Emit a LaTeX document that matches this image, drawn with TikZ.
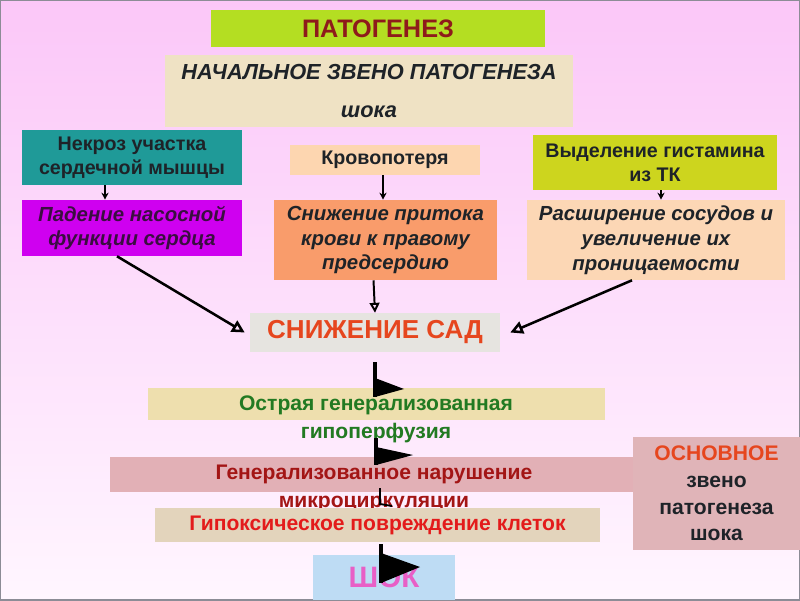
\documentclass[tikz,border=0pt]{standalone}
\usepackage{fontspec}
\setmainfont{Liberation Sans}
\usetikzlibrary{arrows.meta,positioning,calc}
\definecolor{bgTop}{HTML}{FBC7F8}
\definecolor{bgBot}{HTML}{FFF6FF}
\definecolor{frameC}{HTML}{8C8C96}
\definecolor{limeG}{HTML}{B4DE22}
\definecolor{patRed}{HTML}{8E1B1B}
\definecolor{paper}{HTML}{EFE2C4}
\definecolor{paperY}{HTML}{EEDFAE}
\definecolor{paperG}{HTML}{E3D4BC}
\definecolor{tealBox}{HTML}{1F9A98}
\definecolor{inkD}{HTML}{1E2328}
\definecolor{peachL}{HTML}{FDD6B0}
\definecolor{oliveY}{HTML}{CDD51E}
\definecolor{magentaB}{HTML}{CF00F0}
\definecolor{purpleD}{HTML}{3A0E40}
\definecolor{salmon}{HTML}{F99C6B}
\definecolor{peachR}{HTML}{FCD7B5}
\definecolor{grayP}{HTML}{E6E4E0}
\definecolor{sadRed}{HTML}{E6461E}
\definecolor{greenT}{HTML}{227A22}
\definecolor{pinkB}{HTML}{E2B0B6}
\definecolor{darkRed}{HTML}{A31515}
\definecolor{redT}{HTML}{E31B1B}
\definecolor{blueL}{HTML}{BEDCF4}
\definecolor{pinkT}{HTML}{E85FC6}
\definecolor{osnovC}{HTML}{E0B4B8}

\begin{document}
\begin{tikzpicture}[>=Stealth,
  box/.style={inner sep=1pt,align=center,font=\fontsize{14}{17}\selectfont\bfseries},
  ital/.style={box,font=\fontsize{14.5}{17.7}\selectfont\bfseries\itshape},
  band/.style={inner sep=1pt,align=center,font=\fontsize{15}{19.7}\selectfont\bfseries},
  thin/.style={-{Stealth[length=5pt,width=5pt]},line width=1pt},
  diag/.style={-{Triangle[open,length=9pt,width=9pt]},line width=1.8pt},
  chain/.style={line width=2.8pt}]
\useasboundingbox (0,0) rectangle (20,15);
\shade[top color=bgTop,bottom color=bgBot] (0,0) rectangle (20,15);
\draw[frameC,line width=1.4pt] (0,0) rectangle (20,15);
% --- title and initial link ---
\node[box,fill=limeG,text=patRed,minimum width=8.35cm,minimum height=0.925cm,
  font=\fontsize{18}{20}\selectfont\bfseries] (pat) at (9.45,14.29) {ПАТОГЕНЕЗ};
\node[box,fill=paper,text=inkD,minimum width=10.2cm,minimum height=1.8cm,
  font=\fontsize{15.5}{27}\selectfont\bfseries\itshape] (nach) at (9.225,12.725)
  {НАЧАЛЬНОЕ ЗВЕНО ПАТОГЕНЕЗА\\шока};
% --- causes ---
\node[box,fill=tealBox,text=inkD,minimum width=5.5cm,minimum height=1.375cm] (nekroz) at (3.3,11.06) {Некроз участка\\сердечной мышцы};
\node[box,fill=peachL,text=inkD,minimum width=4.75cm,minimum height=0.75cm] (krov) at (9.625,11.0) {Кровопотеря};
\node[box,fill=oliveY,text=inkD,minimum width=6.1cm,minimum height=1.375cm] (vyd) at (16.375,10.9375) {Выделение гистамина\\из ТК};
% --- consequences ---
\node[ital,fill=magentaB,text=purpleD,minimum width=5.5cm,minimum height=1.4cm] (pad) at (3.3,9.3) {Падение насосной\\функции сердца};
\node[ital,fill=salmon,text=inkD,minimum width=5.575cm,minimum height=2cm] (prit) at (9.6375,9.0) {Снижение притока\\крови к правому\\предсердию};
\node[ital,fill=peachR,text=inkD,minimum width=6.45cm,minimum height=2cm] (rasch) at (16.4,9.0) {Расширение сосудов и\\увеличение их\\проницаемости};
\node[box,fill=grayP,text=sadRed,minimum width=6.25cm,minimum height=0.975cm,
  font=\fontsize{18.5}{20}\selectfont\bfseries] (sad) at (9.375,6.6875) {СНИЖЕНИЕ САД};
\draw[thin] ([xshift=-0.675cm]nekroz.south) -- ([xshift=-0.675cm]pad.north);
\draw[thin] ([xshift=-0.05cm]krov.south) -- ([xshift=-0.05cm]krov.south |- prit.north);
\draw[thin] ([xshift=0.15cm]vyd.south) -- ([xshift=0.15cm]vyd.south |- rasch.north);
\draw[diag] ([xshift=-0.375cm]pad.south) -- ([xshift=-0.125cm]sad.west);
\draw[diag,line width=1.4pt,-{Triangle[open,length=7pt,width=7pt]}] ([xshift=-0.3cm]prit.south) -- (sad.north);
\draw[diag] ([xshift=-0.6cm]rasch.south) -- ([xshift=0.25cm]sad.east);
% --- main link chain ---
\fill[paperY] (3.7,5.3) rectangle (15.125,4.5);
\node[band,text=greenT] (ostr) at (9.4,4.525) {Острая генерализованная\\гипоперфузия};
\fill[pinkB] (2.75,3.575) rectangle (15.825,2.7);
\node[band,text=darkRed] (gen) at (9.35,2.7875) {Генерализованное нарушение\\микроциркуляции};
\node[box,fill=paperG,text=redT,minimum width=11.125cm,minimum height=0.85cm,
  font=\fontsize{15}{18}\selectfont\bfseries] (gip) at (9.4375,1.875) {Гипоксическое повреждение клеток};
\node[box,fill=blueL,text=pinkT,minimum width=3.55cm,minimum height=1.125cm,
  font=\fontsize{21}{24}\selectfont\bfseries] (shok) at (9.6,0.5625) {ШОК};
\node[box,fill=osnovC,text=inkD,minimum width=4.175cm,minimum height=2.825cm,
  font=\fontsize{15}{19}\selectfont\bfseries] (osnov) at (17.9125,2.6625)
  {\textcolor{sadRed}{ОСНОВНОЕ}\\звено\\патогенеза\\шока};
\coordinate (t1) at (9.375,5.075);
\coordinate (t2) at (9.4,3.375);
\coordinate (t3) at (9.5,2.4);
\coordinate (t4) at (9.525,0.425);
\draw[chain] ([yshift=-0.25cm]sad.south) -- (t1);
\fill (t1) -- ++(0,0.475) -- ++(0.725,-0.275) -- cycle;
\draw[chain] ([yshift=0.15cm]ostr.south -| t2) -- (t2);
\fill (t2) -- ++(0,0.45) -- ++(0.925,-0.2) -- cycle;
\draw[line width=1.3pt] ($(t3)+(0,0.4)$) -- (t3) -- ++(0.3,-0.05);
\draw[chain] ($(gip.south -| t4)+(0,-0.05)$) -- (t4);
\fill (t4) -- ++(0,0.75) -- ++(0.975,-0.35) -- cycle;
\end{tikzpicture}
\end{document}
